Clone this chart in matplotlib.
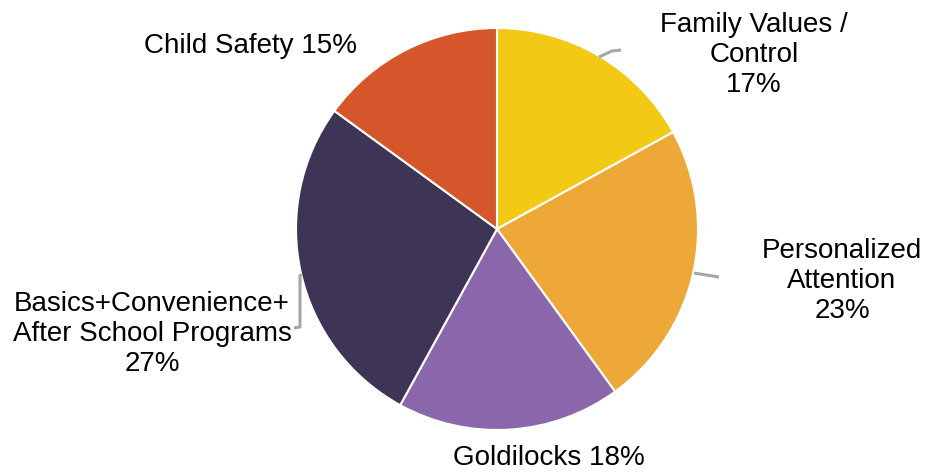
import matplotlib
matplotlib.use("Agg")
import matplotlib.pyplot as plt

categories = ["Family Values /\nControl", "Personalized\nAttention", "Goldilocks",
              "Basics+Convenience+\nAfter School Programs", "Child Safety"]
values = [17, 23, 18, 27, 15]
colors = ["#F2C914", "#EEA838", "#8A67AB", "#3D3456", "#D6562B"]

W, H = 928, 474
fig = plt.figure(figsize=(W / 100, H / 100), dpi=100)
ax = fig.add_axes([0, 0, 1, 1])

cx, cy, r = 497, H - 229, 201
ax.pie(values, colors=colors, startangle=90, counterclock=False,
       center=(cx, cy), radius=r, frame=True,
       wedgeprops=dict(edgecolor="white", linewidth=1.5))
ax.set_xlim(0, W)
ax.set_ylim(0, H)
ax.set_aspect("auto")
ax.axis("off")

font = dict(family=["Liberation Sans", "DejaVu Sans"], fontsize=20, color="black",
            ha="center", va="center", linespacing=1.2)

labels = [f"{c}\n{v}%" if i in (0, 1, 3) else f"{c} {v}%"
          for i, (c, v) in enumerate(zip(categories, values))]
positions = [(754, 55), (842, 281), (549, 458), (152, 334), (251, 46)]
for lab, (x, y) in zip(labels, positions):
    ax.text(x, H - y, lab, **font)

lc = dict(color="#A6A6A6", linewidth=2.2, solid_capstyle="butt")
ax.plot([599, 612, 621], [H - 57, H - 51, H - 50], **lc)
ax.plot([694, 719], [H - 273, H - 277], **lc)
ax.plot([301, 300, 300, 294], [H - 274, H - 276, H - 327, H - 328], **lc)

fig.savefig("out.png", dpi=100)
